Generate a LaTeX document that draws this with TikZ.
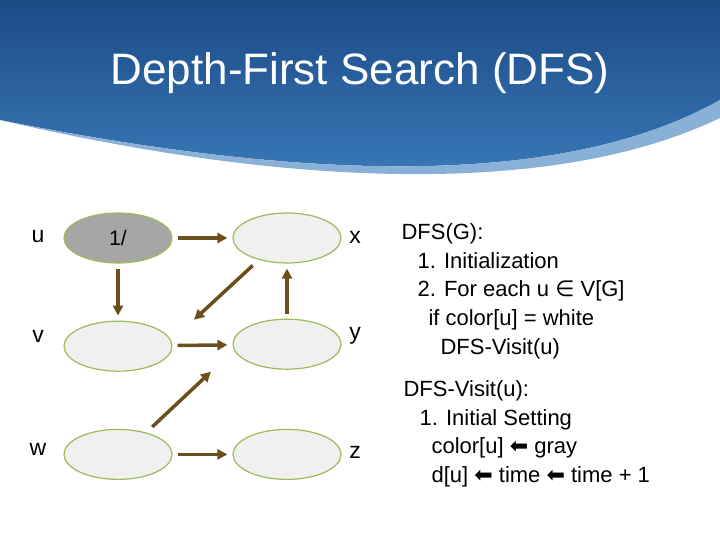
\documentclass[tikz,border=0pt]{standalone}
\usepackage{fontspec}
\setmainfont{Liberation Sans}
\newfontfamily\symfont{DejaVu Sans}
\usetikzlibrary{positioning, shapes.geometric, arrows.meta}
\definecolor{edgebrown}{HTML}{6B4F1D}
\definecolor{rimgreen}{HTML}{9BBB59}
\definecolor{bandtop}{HTML}{1C4A87}
\definecolor{bandbot}{HTML}{3B7CBA}
\newcommand{\larr}{{\symfont\char"2B05}}

\begin{document}
\begin{tikzpicture}[x=1pt, y=-1pt, >={Triangle[length=10pt,width=10pt]},
        vert/.style={draw=rimgreen, line width=1.2pt, ellipse, fill=black!6, minimum width=108pt, minimum height=50pt, inner sep=0pt, font=\fontsize{21}{24}\selectfont},
        edge/.style={->, draw=edgebrown, line width=3.5pt, shorten <=5pt, shorten >=5pt},
        lbl/.style={font=\fontsize{23}{24}\selectfont}]
      \useasboundingbox (0,0) rectangle (720,540);
      % Title band
      \shade[top color=bandtop, bottom color=bandbot] (0,0) -- (720,0) -- (720,100) .. controls (560,190) and (300,180) .. (0,120) -- cycle;
      \fill[bandbot!60!white] (0,120) .. controls (300,180) and (560,190) .. (720,100) -- (720,118) .. controls (560,195) and (300,190) .. (0,120) -- cycle;
      \node[text=white, font=\fontsize{44}{48}\selectfont] (title) at (360,73) {Depth-First Search (DFS)};
      
      % Vertices
      \node[vert, fill=black!35] (u) at (118,238) {1/};
      \node[vert, below=57pt of u] (v) {};
      \node[vert, below=57pt of v] (w) {};
      \node[vert] (x) at (287,238) {};
      \node[vert, below=55pt of x] (y) {};
      \node[vert, below=59pt of y] (z) {};
      
      % Vertex names
      \node[lbl] (ul) at (38,237) {u};
      \node[lbl] (vl) at (38,336) {v};
      \node[lbl] (wl) at (38,449) {w};
      \node[lbl] (xl) at (355,237) {x};
      \node[lbl] (yl) at (355,336) {y};
      \node[lbl] (zl) at (355,452) {z};
      
      % Edges
      \draw[edge] (u) -- (x);
      \draw[edge] (u) -- (v);
      \draw[edge] (x.south west) ++(8,6) coordinate (xs) (xs) -- ++(-66,61) coordinate (vt);
      \draw[edge] (v) -- (y);
      \draw[edge] (y) -- (x);
      \draw[edge] (w.north east) ++(-8,-6) coordinate (wn) (wn) -- ++(66,-62) coordinate (yt);
      \draw[edge] (w) -- (z);
      
      % Pseudocode
      \node[anchor=north west, align=left, font=\fontsize{22}{28.7}\selectfont] (dfs) at (398,220)
        {DFS(G):\\
         \hspace{16pt}1. Initialization\\
         \hspace{16pt}2. For each u {\symfont∈} V[G]\\
         \hspace{27pt}if color[u] = white\\
         \hspace{39pt}DFS-Visit(u)};
      \node[anchor=north west, align=left, font=\fontsize{22}{28.7}\selectfont] (visit) at (400,377)
        {DFS-Visit(u):\\
         \hspace{16pt}1. Initial Setting\\
         \hspace{28pt}color[u] \larr{} gray\\
         \hspace{28pt}d[u] \larr{} time \larr{} time + 1};
    \end{tikzpicture}
\end{document}
